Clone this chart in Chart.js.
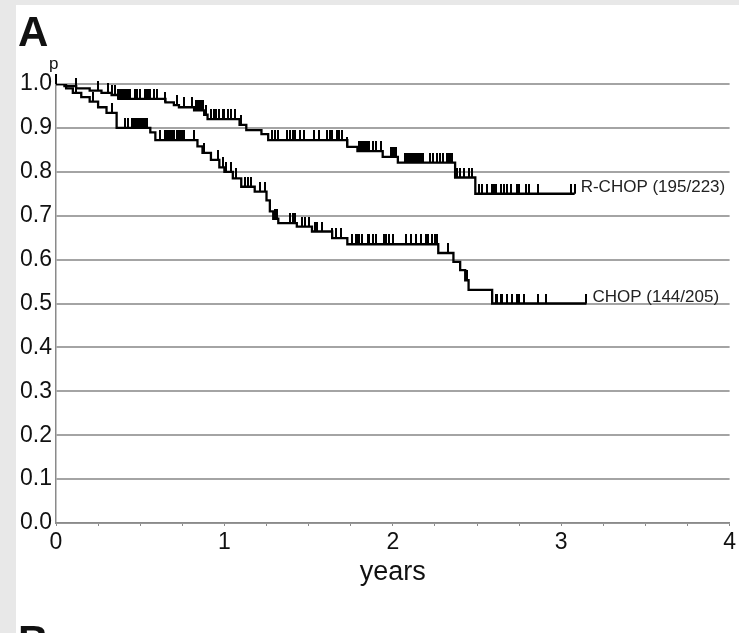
<!DOCTYPE html>
<html>
<head>
<meta charset="utf-8">
<script src="https://cdn.jsdelivr.net/npm/chart.js@4"></script>
<style>
  body { margin: 0; background: #e8e8e8; }
  #wrap { position: relative; width: 739px; height: 633px; background: #e8e8e8; overflow: hidden; font-family: "Liberation Sans", Arial, sans-serif; }
  #panel { position: absolute; left: 16px; top: 5px; width: 723px; height: 628px; background: #fff; }
  .lbl { position: absolute; color: #111; line-height: 1; }
</style>
</head>
<body>
<div id="wrap">
  <div id="panel"><canvas id="kmChart"></canvas></div>
  <div class="lbl" style="left:18px;top:11px;font-size:42px;font-weight:bold;">A</div>
  <div class="lbl" style="left:49px;top:55px;font-size:17px;">p</div>
  <div class="lbl" style="left:18px;top:620px;font-size:42px;font-weight:bold;">B</div>
</div>
<script>
// R-CHOP curve (event times in years, survival after each step)
var rchopTimes = [0, 0.05, 0.12, 0.2, 0.27, 0.33, 0.37, 0.65, 0.7, 0.73, 0.82, 0.88, 0.9, 1.09, 1.13, 1.22, 1.26, 1.73, 1.79, 1.94, 2.03, 2.37, 2.49, 3.08];
var rchopSurv = [1.0, 0.995, 0.99, 0.985, 0.98, 0.975, 0.966, 0.958, 0.952, 0.947, 0.94, 0.93, 0.92, 0.907, 0.895, 0.886, 0.872, 0.857, 0.847, 0.834, 0.821, 0.787, 0.75, 0.75];
var rchopCensor = [0, 0.12, 0.25, 0.31, 0.33, 0.35, 0.37, 0.38, 0.39, 0.40, 0.41, 0.42, 0.43, 0.44, 0.47, 0.48, 0.5, 0.53, 0.54, 0.55, 0.56, 0.58, 0.6, 0.65, 0.72, 0.76, 0.81, 0.83, 0.84, 0.85, 0.86, 0.87, 0.89, 0.92, 0.94, 0.95, 0.97, 0.99, 1.0, 1.02, 1.04, 1.06, 1.1, 1.28, 1.3, 1.32, 1.37, 1.39, 1.41, 1.42, 1.45, 1.47, 1.53, 1.56, 1.61, 1.63, 1.64, 1.67, 1.68, 1.7, 1.73, 1.8, 1.81, 1.82, 1.83, 1.84, 1.85, 1.86, 1.88, 1.9, 1.93, 1.99, 2.0, 2.01, 2.02, 2.07, 2.08, 2.09, 2.1, 2.11, 2.12, 2.13, 2.14, 2.15, 2.16, 2.17, 2.18, 2.22, 2.24, 2.26, 2.28, 2.3, 2.32, 2.33, 2.34, 2.35, 2.38, 2.4, 2.42, 2.45, 2.47, 2.51, 2.53, 2.56, 2.59, 2.6, 2.61, 2.64, 2.66, 2.68, 2.7, 2.74, 2.75, 2.79, 2.81, 2.86, 3.06, 3.08];

// CHOP curve
var chopTimes = [0, 0.06, 0.1, 0.15, 0.2, 0.25, 0.3, 0.36, 0.56, 0.59, 0.84, 0.87, 0.92, 0.97, 1.0, 1.05, 1.1, 1.18, 1.25, 1.27, 1.29, 1.32, 1.43, 1.52, 1.64, 1.73, 2.27, 2.36, 2.4, 2.43, 2.45, 2.59, 3.15];
var chopSurv = [1.0, 0.99, 0.98, 0.97, 0.96, 0.947, 0.934, 0.90, 0.89, 0.872, 0.858, 0.843, 0.827, 0.81, 0.80, 0.785, 0.766, 0.755, 0.735, 0.71, 0.693, 0.683, 0.675, 0.664, 0.649, 0.635, 0.615, 0.595, 0.576, 0.553, 0.531, 0.50, 0.50];
var chopCensor = [0.12, 0.22, 0.33, 0.41, 0.43, 0.45, 0.46, 0.47, 0.48, 0.49, 0.5, 0.51, 0.52, 0.53, 0.54, 0.62, 0.65, 0.66, 0.67, 0.68, 0.69, 0.7, 0.72, 0.73, 0.74, 0.75, 0.76, 0.82, 0.88, 0.96, 0.99, 1.01, 1.04, 1.07, 1.12, 1.14, 1.16, 1.21, 1.24, 1.3, 1.31, 1.39, 1.41, 1.42, 1.46, 1.48, 1.5, 1.54, 1.55, 1.58, 1.64, 1.66, 1.69, 1.76, 1.78, 1.79, 1.8, 1.82, 1.85, 1.86, 1.88, 1.9, 1.95, 1.96, 1.98, 2.0, 2.08, 2.11, 2.14, 2.17, 2.2, 2.21, 2.23, 2.25, 2.26, 2.33, 2.44, 2.61, 2.62, 2.64, 2.65, 2.68, 2.71, 2.74, 2.75, 2.78, 2.86, 2.91, 3.15];

var curveNames = ['R-CHOP (195/223)', 'CHOP (144/205)'];
var xTickLabels = ['0', '1', '2', '3', '4'];

function toPoints(times, surv){
    var pts = [];
    for (var i = 0; i < times.length; i++) pts.push({x: times[i], y: surv[i]});
    return pts;
}

// value of the step function at time t
function survAt(times, surv, t){
    var s = surv[0];
    for (var i = 0; i < times.length; i++){
        if (times[i] <= t) s = surv[i];
    }
    return s;
}

function censorPoints(times, surv, cens){
    return cens.map(function(t){ return {x: t, y: survAt(times, surv, t)}; });
}

// small tick that stands on the curve
function makeTick(){
    var c = document.createElement('canvas');
    c.width = 2; c.height = 20;
    var g = c.getContext('2d');
    g.fillStyle = '#000';
    g.fillRect(0, 0, 2, 10);
    return c;
}
var tick = makeTick();

var endLabels = {
    id: 'endLabels',
    afterDatasetsDraw: function(chart){
        var ctx = chart.ctx;
        ctx.save();
        ctx.font = '17px "Liberation Sans", Arial, sans-serif';
        ctx.fillStyle = '#222';
        ctx.textBaseline = 'middle';
        ctx.textAlign = 'left';
        [0, 1].forEach(function(i){
            var pts = chart.getDatasetMeta(i).data;
            var last = pts[pts.length - 1];
            ctx.fillText(curveNames[i], last.x + 6, last.y - 6);
        });
        ctx.restore();
    }
};

let kmChart = new Chart(document.getElementById('kmChart').getContext('2d'), {
    type: 'line',
    data: {
        datasets: [{
            label: curveNames[0],
            data: toPoints(rchopTimes, rchopSurv),
            stepped: 'before',
            borderColor: '#000',
            borderWidth: 2.3,
            pointRadius: 0,
            fill: false
        }, {
            label: curveNames[1],
            data: toPoints(chopTimes, chopSurv),
            stepped: 'before',
            borderColor: '#000',
            borderWidth: 2.3,
            pointRadius: 0,
            fill: false
        }, {
            label: 'censored R-CHOP',
            data: censorPoints(rchopTimes, rchopSurv, rchopCensor),
            showLine: false,
            pointStyle: tick,
            pointRadius: 3,
            clip: false
        }, {
            label: 'censored CHOP',
            data: censorPoints(chopTimes, chopSurv, chopCensor),
            showLine: false,
            pointStyle: tick,
            pointRadius: 3,
            clip: false
        }]
    },
    options: {
        responsive: true,
        maintainAspectRatio: false,
        animation: false,
        layout: { padding: { top: 79, right: 9, left: 0, bottom: 0 } },
        plugins: { legend: { display: false }, tooltip: { enabled: false } },
        scales: {
            x: {
                type: 'linear',
                min: 0, max: 4,
                afterFit: function(s){ s.height = 110; },
                border: { color: '#8a8a8a', width: 1.5 },
                grid: { drawOnChartArea: false, drawTicks: true, tickLength: 3, color: '#8a8a8a' },
                ticks: {
                    stepSize: 0.25,
                    autoSkip: false,
                    maxRotation: 0,
                    padding: 3,
                    color: '#111',
                    font: { family: '"Liberation Sans", Arial, sans-serif', size: 23 },
                    callback: function(v){ return Number.isInteger(v) ? xTickLabels[v] : ''; }
                },
                title: {
                    display: true,
                    text: 'years',
                    color: '#111',
                    font: { family: '"Liberation Sans", Arial, sans-serif', size: 27 },
                    padding: { top: 0, bottom: 44 }
                }
            },
            y: {
                min: 0, max: 1,
                afterFit: function(s){ s.width = 40; },
                border: { color: '#8a8a8a', width: 1.5 },
                grid: { color: '#a4a4a4', lineWidth: 2, drawTicks: false },
                ticks: {
                    stepSize: 0.1,
                    padding: 4,
                    color: '#111',
                    font: { family: '"Liberation Sans", Arial, sans-serif', size: 23 },
                    callback: function(v){ return v.toFixed(1); }
                }
            }
        }
    },
    plugins: [endLabels]
});
</script>
</body>
</html>
